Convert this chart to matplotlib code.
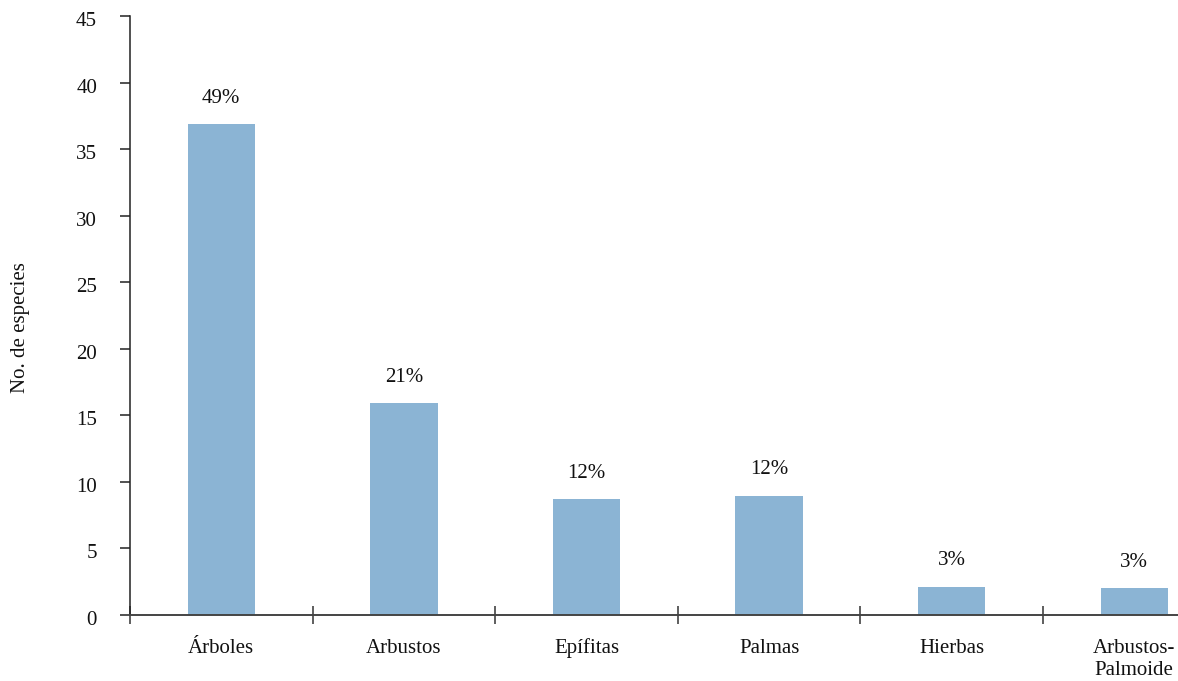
import numpy as np
import matplotlib.pyplot as plt
import matplotlib.transforms as mtransforms

categorias = ['Árboles', 'Arbustos', 'Epífitas', 'Palmas', 'Hierbas', 'Arbustos-\nPalmoide']
especies = [36.9, 15.9, 8.7, 8.95, 2.1, 2.0]
porcentajes = ['49%', '21%', '12%', '12%', '3%', '3%']

plt.rcParams['font.family'] = ['Liberation Serif', 'DejaVu Serif']
fs = 15

fig = plt.figure(figsize=(11.78, 6.81), dpi=100)
ax = fig.add_axes([130/1178, 66.3/681, 1 - 130/1178, (664.7 - 66.3)/681])
alto = 614.7 - 16.3  # alto del eje en px

x = np.arange(len(categorias))
ax.bar(x, especies, width=0.37, color='#8bb4d4', zorder=1)
for xi, v, p in zip(x, especies, porcentajes):
    ax.text(xi, v + 1.6, p, ha='center', va='baseline', fontsize=fs, color='#111111')

ax.set_xlim(-0.5, -0.5 + (1178 - 130) / 182.6)
ax.set_ylim(0, 45)
ax.set_yticks(np.arange(0, 46, 5))
ax.tick_params(axis='y', direction='out', length=7.2, width=1.1, color='#222222',
               labelsize=fs, pad=16.5, labelcolor='#111111')
desplaza = mtransforms.ScaledTranslation(0, -3/100, fig.dpi_scale_trans)
for t in ax.get_yticklabels():
    t.set_transform(t.get_transform() + desplaza)

ax.set_xticks(np.arange(-0.5, len(categorias) - 0.5, 1))
ax.set_xticklabels([])
ax.tick_params(axis='x', which='major', direction='inout', length=13, width=1.1, color='#333333')

# etiquetas de categoria (linea base comun)
trans = ax.get_xaxis_transform()
for xi, c in zip(x, categorias):
    n = c.count('\n')
    ax.text(xi, -(38 + 22 * n) / alto, c, transform=trans, ha='center', va='baseline',
            fontsize=fs, color='#111111', linespacing=1.2)

for s in ['top', 'right']:
    ax.spines[s].set_visible(False)
ax.spines['left'].set_color('#222222')
ax.spines['left'].set_linewidth(1.1)
ax.spines['bottom'].set_color('#444444')
ax.spines['bottom'].set_linewidth(1.4)
ax.spines['bottom'].set_zorder(3)

ax.set_ylabel('No. de especies', fontsize=fs, color='#111111')
ax.yaxis.set_label_coords(-100/1048, (614.7 - 328) / alto)

plt.savefig('out.png', dpi=100)
